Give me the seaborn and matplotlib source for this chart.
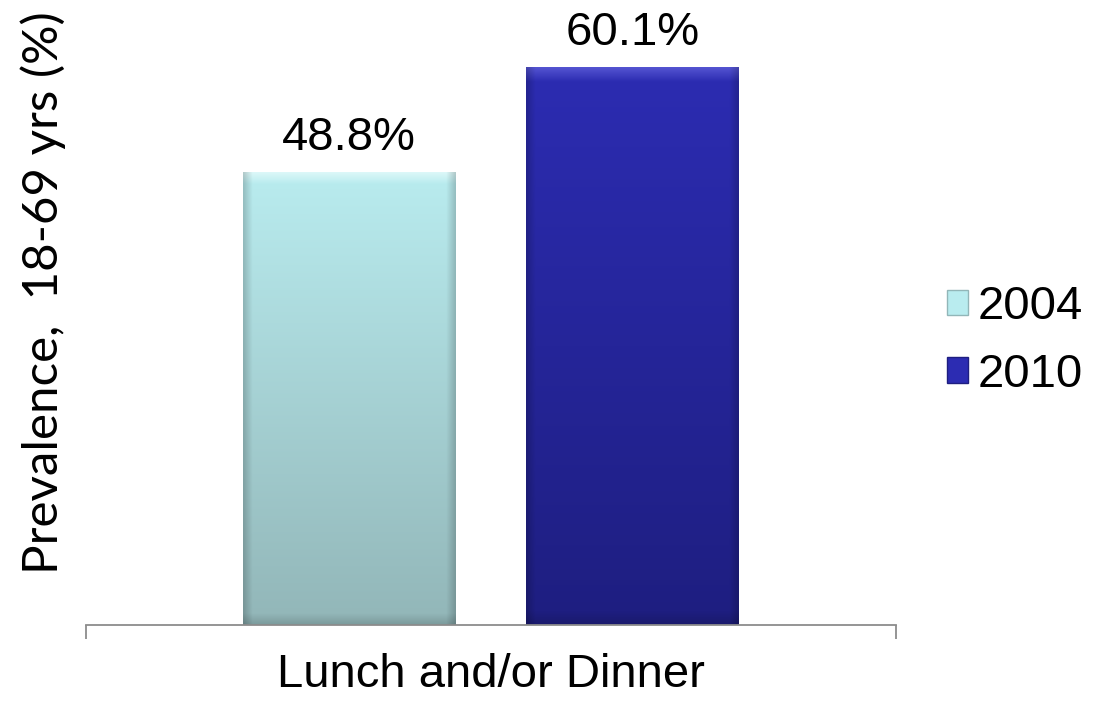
import numpy as np
import pandas as pd
import matplotlib
matplotlib.use("Agg")
import matplotlib.pyplot as plt
from matplotlib.patches import Patch
from matplotlib.colors import to_rgb
import seaborn as sns

# ---- data ----
categories = ["Lunch and/or Dinner"]
years = ["2004", "2010"]
values = [48.8, 60.1]
value_labels = ["48.8%", "60.1%"]
ylabel_text = "Prevalence,  18-69 yrs (%)"

# colours: (top highlight, top, bottom)
grad_colors = {
    "2004": ("#E2FAFA", "#B9ECEF", "#92B6B8"),
    "2010": ("#5A5AD6", "#2C2CB2", "#1E1E80"),
}
mid_colors = ["#A8D6D9", "#2626A0"]

df = pd.DataFrame({"cat": categories * len(years), "year": years, "val": values})

sns.set_theme(style="white")
plt.rcParams["font.family"] = ["Liberation Sans", "DejaVu Sans"]
plt.rcParams["text.color"] = "black"

W, H = 1101, 702
fig = plt.figure(figsize=(W / 100, H / 100), dpi=100)
ax = fig.add_axes([86 / W, 77 / H, 810 / W, 625 / H])

sns.barplot(data=df, x="cat", y="val", hue="year", palette=mid_colors,
            width=0.7, gap=0.25, ax=ax, legend=False, saturation=1,
            edgecolor="none")

ax.set_xlim(-0.5, 0.5)
ax.set_ylim(0, 67.37)


def make_grad(hi, top, bot, nh=400, nw=120):
    hi, top, bot = map(lambda c: np.array(to_rgb(c)), (hi, top, bot))
    t = np.linspace(0, 1, nh)[:, None]
    col = top[None, :] * (1 - t) + bot[None, :] * t  # (nh,3)
    img = np.repeat(col[:, None, :], nw, axis=1)
    # top bevel highlight
    nb = int(nh * 0.025)
    for i in range(nb):
        f = 1 - i / nb
        img[i] = img[i] * (1 - f * 0.85) + hi * f * 0.85
    # side shading
    ns = int(nw * 0.045)
    for j in range(ns):
        f = (1 - j / ns) * 0.18
        img[:, j] *= (1 - f)
        img[:, nw - 1 - j] *= (1 - f)
    # bottom shading
    for i in range(nb):
        f = (1 - i / nb) * 0.15
        img[nh - 1 - i] *= (1 - f)
    return np.clip(img, 0, 1)


bars = list(ax.patches)
for p, yr in zip(bars, years):
    x0, y0, w, h = p.get_x(), p.get_y(), p.get_width(), p.get_height()
    img = make_grad(*grad_colors[yr])
    im = ax.imshow(img, extent=[x0, x0 + w, y0, y0 + h], aspect="auto",
                   origin="upper", zorder=p.get_zorder() + 0.1,
                   interpolation="bilinear")
    im.set_clip_path(p)

ax.set_xlim(-0.5, 0.5)
ax.set_ylim(0, 67.37)
ax.set_aspect("auto")

for p, lab in zip(bars, value_labels):
    ax.annotate(lab, (p.get_x() + p.get_width() / 2, p.get_height()),
                xytext=(0, 9), textcoords="offset points", ha="center",
                va="bottom", fontsize=34, color="black", zorder=5)

# axes styling
for s in ["left", "top", "right"]:
    ax.spines[s].set_visible(False)
ax.spines["bottom"].set_color("#8C8C8C")
ax.spines["bottom"].set_linewidth(1.3)
ax.set_yticks([])
ax.set_xlabel("")
ax.set_xticks([0])
ax.set_xticklabels(categories, fontsize=34, color="black")
ax.tick_params(axis="x", which="major", length=0, pad=20.5)
ax.set_xticks([-0.5, 0.5], minor=True)
ax.tick_params(axis="x", which="minor", length=10, width=1.3,
               color="#8C8C8C", direction="out", bottom=True)

ax.set_ylabel(ylabel_text, fontsize=35.5, family=["Lato", "DejaVu Sans"],
              color="black")
ax.yaxis.label.set_va("center")
ax.yaxis.set_label_coords((43 - 86) / 810, (H - 293 - 77) / 625)

handles = [Patch(facecolor=grad_colors[y][1], edgecolor=grad_colors[y][2],
                 linewidth=1.0, label=y) for y in years]
leg = fig.legend(handles=handles, loc="center left",
                 bbox_to_anchor=(923 / W, 1 - 341 / H), frameon=False,
                 fontsize=34, handlelength=0.45, handleheight=0.45,
                 handletextpad=0.2, labelspacing=0.5, borderpad=0)
for t in leg.get_texts():
    t.set_color("black")

fig.savefig("out.png", dpi=100, facecolor="white")
